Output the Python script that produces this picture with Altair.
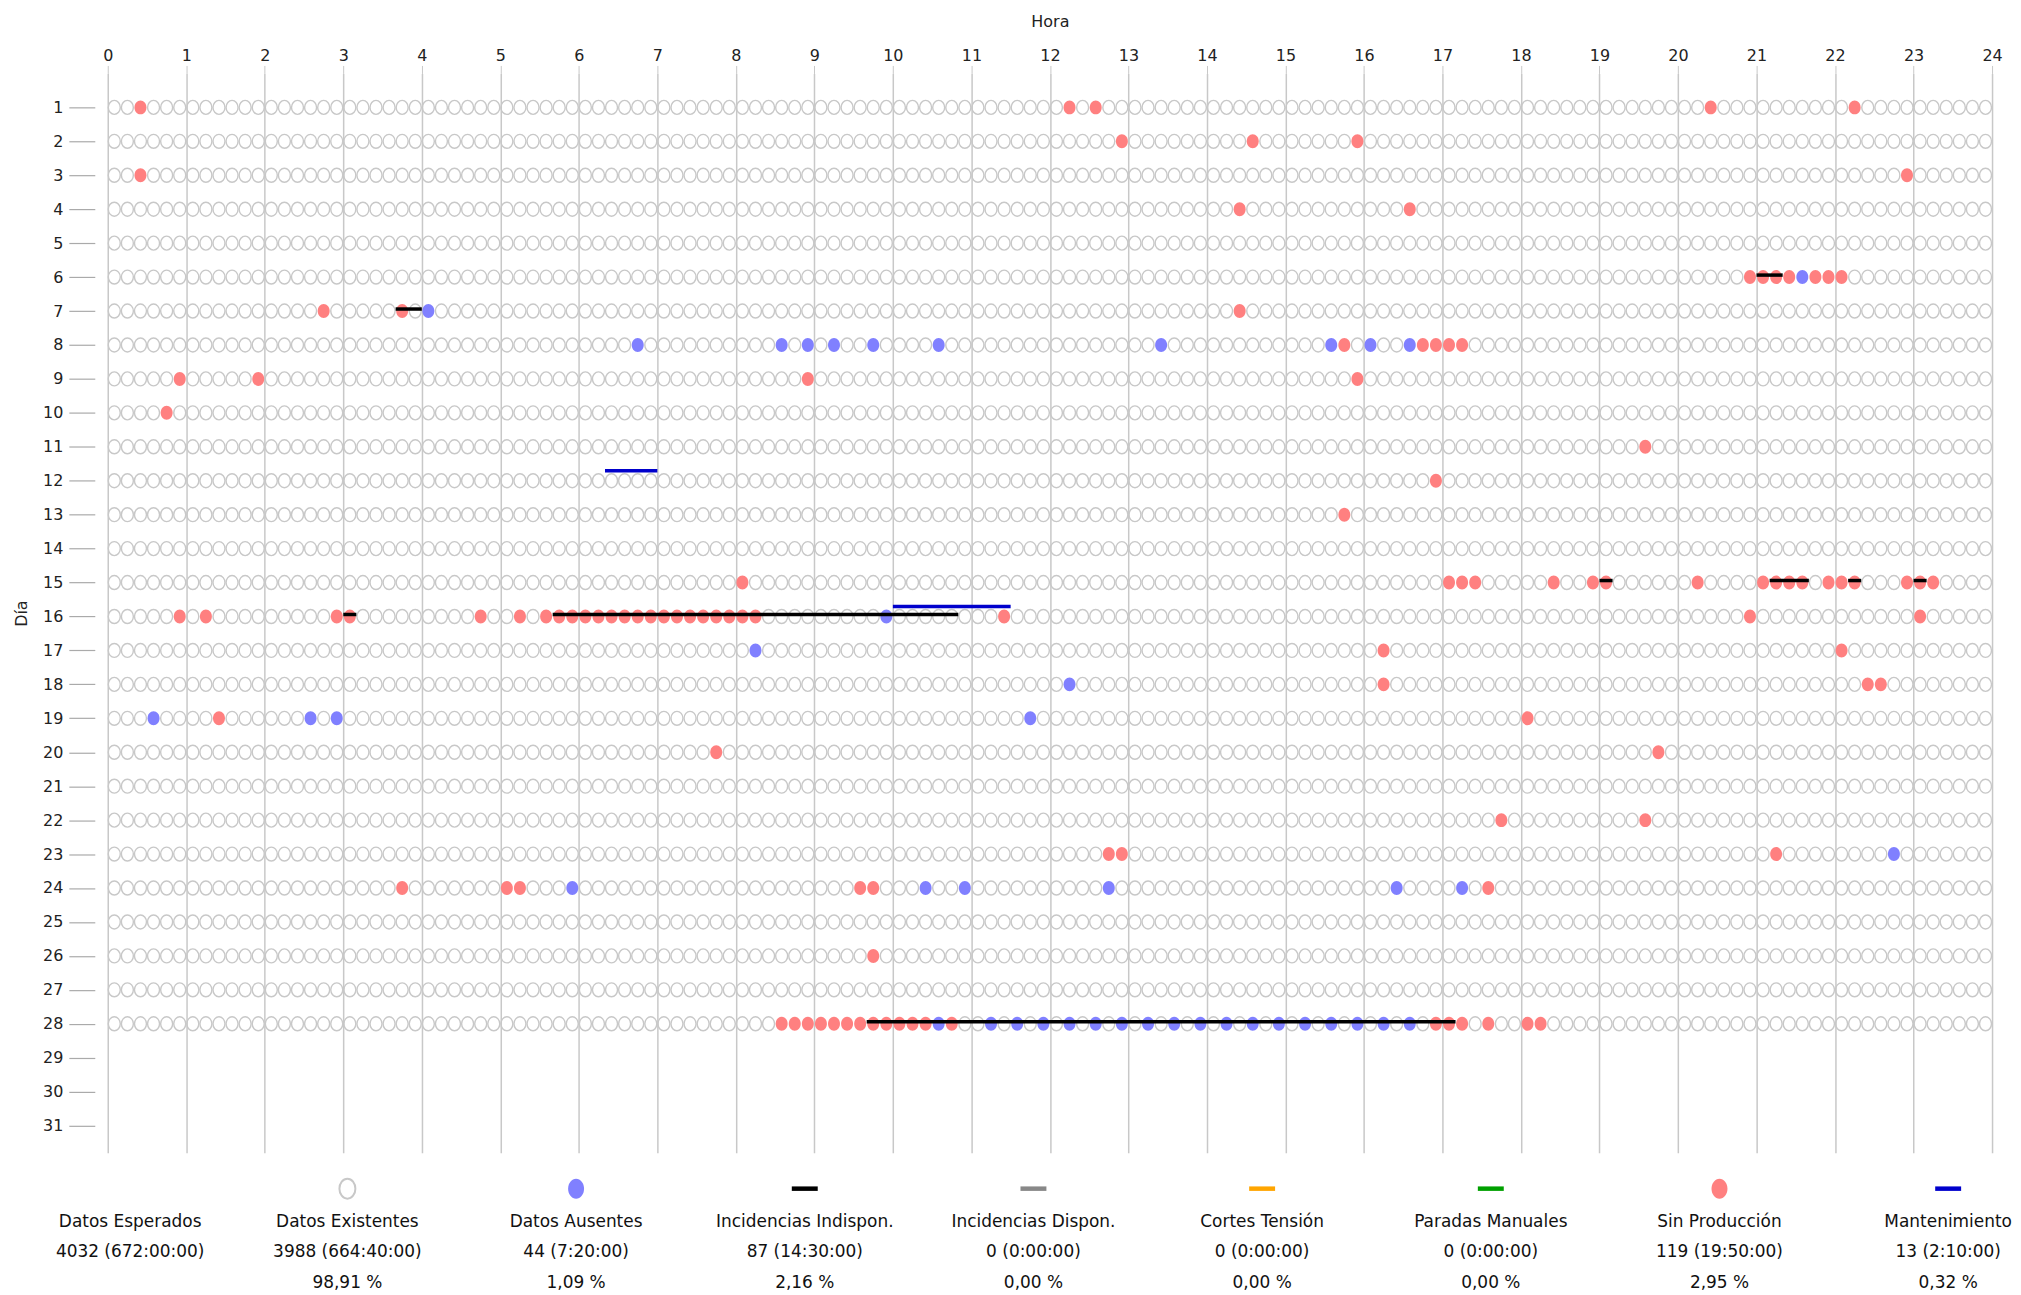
import altair as alt
import pandas as pd

# ---------------- data ----------------
hour_ticks = list(range(0, 25))
day_ticks = list(range(1, 32))
days_with_data = list(range(1, 29))
SLOTS_PER_DAY = 144  # one record every 10 minutes

# "Sin Producción" records: day -> slot index of the day (0 = 00:00-00:10)
sin_produccion = {
    1: [2, 73, 75, 122, 133],
    2: [77, 87, 95],
    3: [2, 137],
    4: [86, 99],
    6: [125, 126, 127, 128, 130, 131, 132],
    7: [16, 22, 86],
    8: [94, 100, 101, 102, 103],
    9: [5, 11, 53, 95],
    10: [4],
    11: [117],
    12: [101],
    13: [94],
    15: [48, 102, 103, 104, 110, 113, 114, 121, 126, 127, 128, 129, 131, 132, 133, 137, 138, 139],
    16: [5, 7, 17, 18, 28, 31, 33, 34, 35, 36, 37, 38, 39, 40, 41, 42, 43, 44, 45, 46, 47, 48, 49, 68, 125, 138],
    17: [97, 132],
    18: [97, 134, 135],
    19: [8, 108],
    20: [46, 118],
    22: [106, 117],
    23: [76, 77, 127],
    24: [22, 30, 31, 57, 58, 105],
    26: [58],
    28: [51, 52, 53, 54, 55, 56, 57, 58, 59, 60, 61, 62, 64, 101, 102, 103, 105, 108, 109],
}

# "Datos Ausentes" records: day -> slot index
datos_ausentes = {
    6: [129],
    7: [24],
    8: [40, 51, 53, 55, 58, 63, 80, 93, 96, 99],
    16: [59],
    17: [49],
    18: [73],
    19: [3, 15, 17, 70],
    23: [136],
    24: [35, 62, 65, 76, 98, 103],
    28: [63, 67, 69, 71, 73, 75, 77, 79, 81, 83, 85, 87, 89, 91, 93, 95, 97, 99],
}

# Incidencias Indisponibilidad: (day, start, end)
incidencias_indispon = [
    (6, "21:00", "21:20"),
    (7, "3:40", "4:00"),
    (15, "19:00", "19:10"),
    (15, "21:10", "21:40"),
    (15, "22:10", "22:20"),
    (15, "23:00", "23:10"),
    (16, "3:00", "3:10"),
    (16, "5:40", "10:50"),
    (28, "9:40", "17:10"),
]

# Mantenimiento: (day, start, end)
mantenimiento = [
    (12, "6:20", "7:00"),
    (16, "10:00", "11:30"),
]

legend_names = ["Datos Esperados", "Datos Existentes", "Datos Ausentes",
                "Incidencias Indispon.", "Incidencias Dispon.", "Cortes Tensión",
                "Paradas Manuales", "Sin Producción", "Mantenimiento"]
legend_counts = ["4032 (672:00:00)", "3988 (664:40:00)", "44 (7:20:00)",
                 "87 (14:30:00)", "0 (0:00:00)", "0 (0:00:00)", "0 (0:00:00)",
                 "119 (19:50:00)", "13 (2:10:00)"]
legend_pcts = ["", "98,91 %", "1,09 %", "2,16 %", "0,00 %", "0,00 %", "0,00 %",
               "2,95 %", "0,32 %"]
legend_kind = ["none", "hollow", "filled", "line", "line", "line", "line", "filled", "line"]
legend_colors = ["#ffffff", "#c8c8c8", "#8080ff", "#000000", "#888888",
                 "#ffa500", "#00a000", "#ff8080", "#0000cc"]
legend_col = [0.05, 1, 2, 3, 4, 5, 6, 7, 8]

# ---------------- styling ----------------
FONT = "DejaVu Sans"
W, H = 1889, 1082
RED, BLUE, GREY = "#ff8080", "#8080ff", "#c8c8c8"
OVAL = "M0,-1A0.857,1,0,1,1,0,1A0.857,1,0,1,1,0,-1Z"
LEG_OVAL = "M0,-1A0.8,1,0,1,1,0,1A0.8,1,0,1,1,0,-1Z"
HLINE = "M-1,0L1,0"


def to_hours(s):
    h, m = s.split(":")
    return int(h) + int(m) / 60.0


def slot_hour(k):
    return (k + 0.5) / 6.0


def table(d):
    return pd.DataFrame([{"day": day, "hour": slot_hour(k)} for day, ks in d.items() for k in ks])


red_df = table(sin_produccion)
blue_df = table(datos_ausentes)
taken = {(day, k) for dd in (sin_produccion, datos_ausentes) for day, ks in dd.items() for k in ks}
hollow_df = pd.DataFrame([
    {"day": day, "hour": slot_hour(k)}
    for day in days_with_data for k in range(SLOTS_PER_DAY) if (day, k) not in taken
])
inc_df = pd.DataFrame([{"day": d, "hour": to_hours(a), "end": to_hours(b)} for d, a, b in incidencias_indispon])
man_df = pd.DataFrame([{"day": d, "hour": to_hours(a), "end": to_hours(b)} for d, a, b in mantenimiento])

xscale = alt.Scale(domain=[0, 24], nice=False, zero=False)
yscale = alt.Scale(domain=[0, 31.8], nice=False, zero=False, reverse=True)

x_axis = alt.Axis(orient="top", values=hour_ticks, title="Hora", grid=True, gridColor=GREY,
                  gridWidth=1.5, domain=False, ticks=True, tickSize=8, tickColor=GREY,
                  labelPadding=2, labelFlush=False, labelFont=FONT, labelFontSize=16,
                  labelColor="#222", titleFont=FONT, titleFontSize=16,
                  titleFontWeight="normal", titleColor="#222", titlePadding=18, format="d")
y_axis = alt.Axis(values=day_ticks, title="Día", grid=False, domain=False, offset=13,
                  tickSize=26, tickColor="#aaa", tickWidth=1.2, labelPadding=6,
                  labelFlush=False, labelFont=FONT, labelFontSize=16, labelColor="#222",
                  titleFont=FONT, titleFontSize=16, titleFontWeight="normal", titleColor="#222",
                  titlePadding=13, format="d")

X = alt.X("hour:Q", scale=xscale, axis=x_axis)
Y = alt.Y("day:Q", scale=yscale, axis=y_axis)

hollow = alt.Chart(hollow_df).mark_point(shape=OVAL, size=196, filled=False, stroke=GREY,
                                         strokeWidth=1.4, opacity=1).encode(x=X, y=Y)
reds = alt.Chart(red_df).mark_point(shape=OVAL, size=196, filled=True, fill=RED,
                                    strokeWidth=0, opacity=1).encode(x=X, y=Y)
blues = alt.Chart(blue_df).mark_point(shape=OVAL, size=196, filled=True, fill=BLUE,
                                      strokeWidth=0, opacity=1).encode(x=X, y=Y)
inc = alt.Chart(inc_df).mark_rule(color="#000000", strokeWidth=3.5, yOffset=-2).encode(
    x=X, x2="end:Q", y=Y)
man = alt.Chart(man_df).mark_rule(color="#0000cc", strokeWidth=3.5, yOffset=-10).encode(
    x=X, x2="end:Q", y=Y)

main = alt.layer(hollow, reds, blues, inc, man)

leg_df = pd.DataFrame({
    "name": legend_names, "count": legend_counts, "pct": legend_pcts,
    "kind": legend_kind, "color": legend_colors, "col": legend_col,
})
lx = alt.X("col:Q", scale=alt.Scale(domain=[0, 8], range=[11, 1845], nice=False, zero=False), axis=None)
base = alt.Chart(leg_df)
leg_hollow = base.transform_filter(alt.datum.kind == "hollow").mark_point(
    shape=LEG_OVAL, size=400, filled=False, strokeWidth=2, opacity=1).encode(
    x=lx, y=alt.value(H + 36), stroke=alt.Color("color:N", scale=None))
leg_filled = base.transform_filter(alt.datum.kind == "filled").mark_point(
    shape=LEG_OVAL, size=400, filled=True, strokeWidth=0, opacity=1).encode(
    x=lx, y=alt.value(H + 36), fill=alt.Color("color:N", scale=None))
leg_line = base.transform_filter(alt.datum.kind == "line").mark_point(
    shape=HLINE, size=676, filled=False, strokeWidth=4.5, opacity=1).encode(
    x=lx, y=alt.value(H + 36), stroke=alt.Color("color:N", scale=None))
txt = dict(font=FONT, fontSize=17, color="#111", baseline="middle", align="center")
leg_name = base.mark_text(**txt).encode(x=lx, y=alt.value(H + 69), text="name:N")
leg_count = base.mark_text(**txt).encode(x=lx, y=alt.value(H + 100), text="count:N")
leg_pct = base.mark_text(**txt).encode(x=lx, y=alt.value(H + 131), text="pct:N")

legend = alt.layer(leg_hollow, leg_filled, leg_line, leg_name, leg_count, leg_pct)

chart = alt.layer(main, legend).resolve_scale(x="independent").properties(
    width=W, height=H, background="white",
    padding={"left": 5, "top": 4, "right": 0, "bottom": 0},
).configure_view(strokeWidth=0, stroke=None)

chart.save("out.html", embed_options={"renderer": "svg", "actions": False})
